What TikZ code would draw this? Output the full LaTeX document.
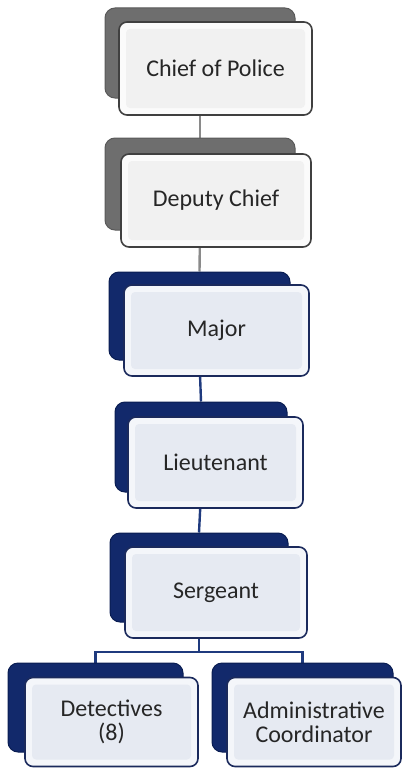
\documentclass[tikz,border=0pt]{standalone}
\usepackage{fontspec}
\setmainfont{Carlito}
\usetikzlibrary{backgrounds,calc}
\definecolor{gback}{HTML}{6E6E6E}
\definecolor{gbackd}{HTML}{5A5A5A}
\definecolor{gfront}{HTML}{FBFBFB}
\definecolor{ginner}{HTML}{F1F1F1}
\definecolor{gedge}{HTML}{404040}
\definecolor{bback}{HTML}{12296B}
\definecolor{bbackd}{HTML}{0A1D52}
\definecolor{bfront}{HTML}{F4F6FA}
\definecolor{binner}{HTML}{E6EAF2}
\definecolor{bedge}{HTML}{1B2A5C}
\definecolor{gline}{HTML}{8A8A8A}
\definecolor{bline}{HTML}{1F3A7E}
\definecolor{txt}{HTML}{262626}
\tikzset{
  backbox/.style={rounded corners=10pt, inner sep=0pt},
  gbackbox/.style={backbox, fill=gback, draw=gbackd, line width=1pt},
  bbackbox/.style={backbox, fill=bback, draw=bbackd, line width=1pt},
  frontbox/.style={rounded corners=8pt, inner sep=0pt, align=center, text=txt,
    font=\fontsize{24}{24}\selectfont, line width=1.6pt,
    path picture={\fill[#1, rounded corners=4pt]
      ([shift={(7pt,-7pt)}]path picture bounding box.north west) rectangle
      ([shift={(-7pt,7pt)}]path picture bounding box.south east);}},
  gfrontbox/.style={frontbox=ginner, fill=gfront, draw=gedge},
  bfrontbox/.style={frontbox=binner, fill=bfront, draw=bedge},
  gconn/.style={draw=gline, line width=2.4pt},
  bconn/.style={draw=bline, line width=2.4pt},
}
\begin{document}
\begin{tikzpicture}[x=1pt,y=-1pt]
\useasboundingbox (0,0) rectangle (404,768);
% back boxes
\node[gbackbox, minimum width=190pt, minimum height=90pt] (chiefbk) at (200,53) {};
\node[gbackbox, minimum width=190pt, minimum height=92pt] (deputybk) at (200,184) {};
\node[bbackbox, minimum width=181pt, minimum height=88pt] (majorbk) at (199.5,316) {};
\node[bbackbox, minimum width=172pt, minimum height=90pt] (lieutbk) at (201,447) {};
\node[bbackbox, minimum width=178pt, minimum height=89pt] (sergbk) at (199,577.5) {};
\node[bbackbox, minimum width=175pt, minimum height=89pt] (detbk) at (95.5,707.5) {};
\node[bbackbox, minimum width=181pt, minimum height=89pt] (admbk) at (302.5,707.5) {};
% front boxes
\node[gfrontbox, minimum width=193pt, minimum height=93pt] (chief) at (215.5,68.5) {Chief of Police};
\node[gfrontbox, minimum width=190pt, minimum height=93pt] (deputy) at (216,200.5) {Deputy Chief};
\node[bfrontbox, minimum width=185pt, minimum height=91pt] (major) at (216.5,330.5) {Major};
\node[bfrontbox, minimum width=175pt, minimum height=91pt] (lieut) at (215.5,462.5) {Lieutenant};
\node[bfrontbox, minimum width=182pt, minimum height=91pt] (serg) at (216,592.5) {Sergeant};
\node[bfrontbox, minimum width=173pt, minimum height=89pt] (det) at (111.5,722) {Detectives\\(8)};
\node[bfrontbox, minimum width=174pt, minimum height=89pt] (adm) at (314,722) {Administrative\\Coordinator};
\coordinate (bar) at (200,652);
% connectors
\begin{scope}[on background layer]
\draw[gconn] (chiefbk.south) -- (deputybk.north);
\draw[gconn] (deputybk.south) -- (majorbk.north);
\draw[bconn] (majorbk.south) -- (lieutbk.north);
\draw[bconn] (lieutbk.south) -- (sergbk.north);
\draw[bconn] (sergbk.south) -- (sergbk.south |- bar);
\draw[bconn] (detbk.north) |- (bar) -| (admbk.north);
\end{scope}
\end{tikzpicture}
\end{document}
